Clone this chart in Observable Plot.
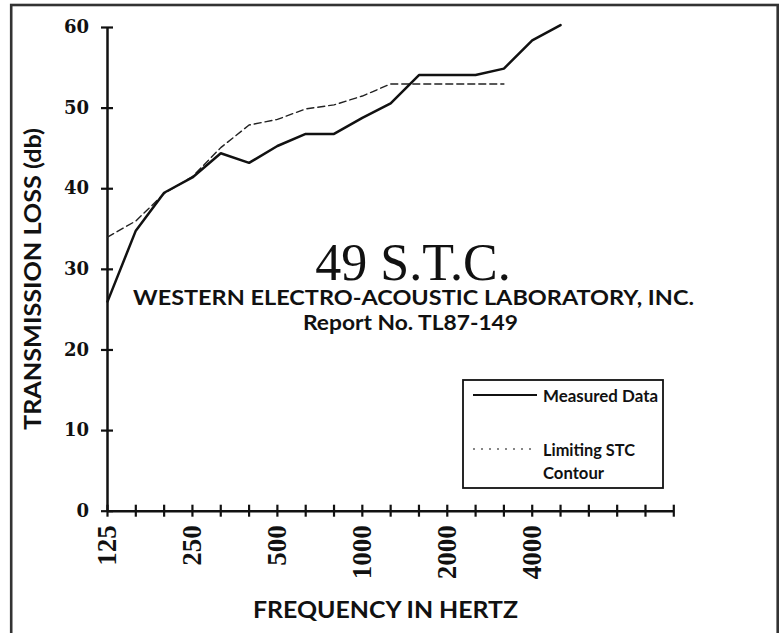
<!DOCTYPE html>
<html>
<head>
<meta charset="utf-8">
<script src="https://cdn.jsdelivr.net/npm/d3@7"></script>
<script src="https://cdn.jsdelivr.net/npm/@observablehq/plot@0.6"></script>
<style>
  html, body { margin: 0; padding: 0; background: #fff; overflow: hidden; }
  #chart { position: relative; width: 782px; height: 633px; }
</style>
</head>
<body>
<div id="chart"></div>
<script>
// 1/3-octave band centre frequencies along the x axis (Hz)
const bands = [125, 160, 200, 250, 315, 400, 500, 630, 800, 1000, 1250, 1600, 2000, 2500, 3150, 4000, 5000, 6300, 8000, 10000, 12500];
const labelledBands = [125, 250, 500, 1000, 2000, 4000];
const yTicks = [0, 10, 20, 30, 40, 50, 60];

// Measured transmission loss (dB), 125 Hz .. 5000 Hz
const measuredFreq = [125, 160, 200, 250, 315, 400, 500, 630, 800, 1000, 1250, 1600, 2000, 2500, 3150, 4000, 5000];
const measuredTL   = [26, 34.8, 39.5, 41.4, 44.4, 43.2, 45.3, 46.8, 46.8, 48.8, 50.6, 54.1, 54.1, 54.1, 54.9, 58.4, 60.3];

// Limiting STC contour (dB), 125 Hz .. 3150 Hz
const contourFreq = [125, 160, 200, 250, 315, 400, 500, 630, 800, 1000, 1250, 1600, 2000, 2500, 3150];
const contourTL   = [34, 36, 39.4, 41.5, 45.1, 47.9, 48.6, 49.9, 50.4, 51.5, 53, 53, 53, 53, 53];

const measured = measuredFreq.map((f, k) => ({band: bands.indexOf(f), tl: measuredTL[k]}));
const contour = contourFreq.map((f, k) => ({band: bands.indexOf(f), tl: contourTL[k]}));

const xDomain = [0, bands.length - 1];
const yDomain = [0, 60];
const serif = "'Liberation Serif', 'Times New Roman', serif";
const wideSerif = "'DejaVu Serif', serif";
const sans = "Lato, 'Open Sans', sans-serif";

const plot = Plot.plot({
  width: 782,
  height: 633,
  marginLeft: 107,
  marginRight: 108.7,
  marginTop: 27,
  marginBottom: 122.3,
  x: {domain: xDomain},
  y: {domain: yDomain},
  style: {background: "transparent", color: "#111"},
  marks: [
    // y ticks crossing the axis + labels
    Plot.axisY({
      ticks: yTicks, tickSize: 12, dx: 6, tickPadding: 12.5,
      strokeWidth: 2.2, stroke: "#111",
      fontSize: 18, fontFamily: wideSerif, fontWeight: "bold", fill: "#111",
      tickFormat: d => String(d), label: null
    }),
    // x ticks crossing the axis (all 1/3-octave bands)
    Plot.axisX({
      ticks: d3.range(bands.length), tickSize: 12, dy: -6,
      strokeWidth: 2.2, stroke: "#111",
      tickFormat: () => "", label: null
    }),
    // x labels (octave bands)
    Plot.axisX({
      ticks: labelledBands.map(f => bands.indexOf(f)), tickSize: 0, tickPadding: 14,
      tickRotate: -90,
      fontSize: 27, fontFamily: serif, fontWeight: "bold", fill: "#111",
      tickFormat: i => String(bands[i]), label: null
    }),
    Plot.ruleX([xDomain[0]], {y1: yDomain[0], y2: yDomain[1], stroke: "#111", strokeWidth: 2.5}),
    Plot.ruleY([yDomain[0]], {x1: xDomain[0], x2: xDomain[1], stroke: "#111", strokeWidth: 2.5}),
    Plot.line(contour, {x: "band", y: "tl", stroke: "#222", strokeWidth: 1.4, strokeDasharray: "7,4"}),
    Plot.line(measured, {x: "band", y: "tl", stroke: "#111", strokeWidth: 2.5, strokeLinejoin: "miter"})
  ]
});

document.getElementById("chart").appendChild(plot);

// Decorations: outer frame, titles, annotation and legend
const svg = d3.select(plot);
const g = svg.append("g").attr("fill", "#111");

function label(parent, text, {x, y, size, family = sans, weight = "bold", anchor = "middle", length, transform}) {
  const t = parent.append("text")
    .attr("text-anchor", anchor)
    .attr("font-family", family).attr("font-weight", weight).attr("font-size", size)
    .text(text);
  if (transform) t.attr("transform", transform); else t.attr("x", x).attr("y", y);
  if (length) t.attr("textLength", length).attr("lengthAdjust", "spacingAndGlyphs");
  return t;
}

g.append("rect").attr("x", 11.2).attr("y", 5).attr("width", 766.5).attr("height", 700)
  .attr("fill", "none").attr("stroke", "#333").attr("stroke-width", 2.6);

label(g, "FREQUENCY IN HERTZ", {x: 385.5, y: 618, size: 23, length: 265});
label(g, "TRANSMISSION LOSS (db)", {transform: "translate(40.5,279) rotate(-90)", size: 23, length: 302});
label(g, "49 S.T.C.", {x: 413, y: 280, size: 52, family: serif, weight: "normal"});
label(g, "WESTERN ELECTRO-ACOUSTIC LABORATORY, INC.", {x: 413.5, y: 305, size: 20, length: 561});
label(g, "Report No. TL87-149", {x: 410.5, y: 330, size: 20, length: 215});

// legend
const lg = g.append("g");
lg.append("rect").attr("x", 463).attr("y", 380).attr("width", 200).attr("height", 108)
  .attr("fill", "#fff").attr("stroke", "#111").attr("stroke-width", 1.8);
lg.append("line").attr("x1", 473).attr("x2", 537).attr("y1", 395).attr("y2", 395)
  .attr("stroke", "#111").attr("stroke-width", 2);
label(lg, "Measured Data", {x: 543, y: 401.5, size: 17.5, anchor: "start", length: 115});
lg.append("line").attr("x1", 473).attr("x2", 536).attr("y1", 449).attr("y2", 449)
  .attr("stroke", "#111").attr("stroke-width", 1.2).attr("stroke-dasharray", "2,6");
label(lg, "Limiting STC", {x: 543, y: 456, size: 17.5, anchor: "start", length: 92});
label(lg, "Contour", {x: 543, y: 478.5, size: 17.5, anchor: "start", length: 61});
</script>
</body>
</html>
